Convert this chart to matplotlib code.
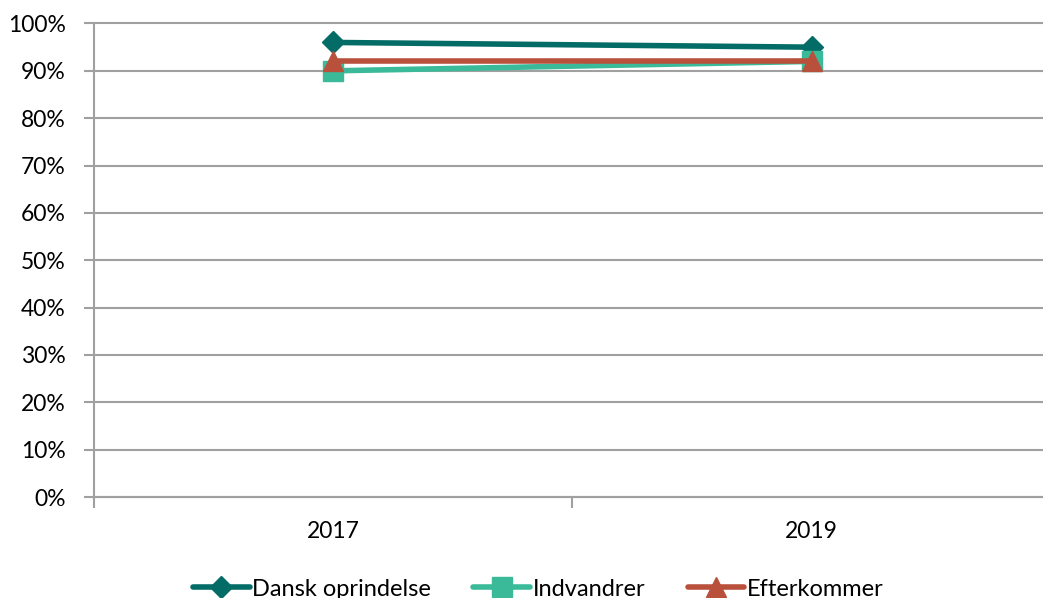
import matplotlib
matplotlib.use("Agg")
import matplotlib.pyplot as plt
from matplotlib.ticker import FixedLocator, PercentFormatter

years = ["2017", "2019"]
dansk = [96, 95]
indvandrer = [90, 92]
efterkommer = [92, 92]

series_names = ["Dansk oprindelse", "Indvandrer", "Efterkommer"]
colors = ["#046c66", "#3aba98", "#b9503c"]
markers = ["D", "s", "^"]
marker_sizes = [11, 14, 14]

plt.rcParams['font.family'] = ['Lato', 'DejaVu Sans']

fig = plt.figure(figsize=(10.43, 5.98), dpi=100)
# plot area runs a little past the right edge, as in the original
ax = fig.add_axes([93.5 / 1043, 1 - 497 / 598, (1051 - 93.5) / 1043, (497 - 23.5) / 598])

x = list(range(len(years)))
for vals, name, c, m, ms in zip([dansk, indvandrer, efterkommer], series_names, colors, markers, marker_sizes):
    ax.plot(x, vals, color=c, lw=4, marker=m, markersize=ms, label=name,
            solid_capstyle='round', zorder=3)

ax.set_xlim(-0.5, len(years) - 0.5)
ax.set_ylim(0, 100)
ax.set_yticks(range(0, 101, 10))
ax.yaxis.set_major_formatter(PercentFormatter(decimals=0))
ax.set_xticks(x)
ax.set_xticklabels(years)
ax.xaxis.set_minor_locator(FixedLocator([-0.5, 0.5, 1.5]))

ax.grid(axis='y', color='#a0a0a0', lw=1.5, zorder=0)
for gl in ax.get_ygridlines():
    gl.set_clip_on(False)
for s in ['top', 'right']:
    ax.spines[s].set_visible(False)
for s in ['left', 'bottom']:
    ax.spines[s].set_color('#a0a0a0')
    ax.spines[s].set_linewidth(1.5)

ax.tick_params(axis='y', length=7, width=1.5, color='#a0a0a0', labelsize=16.5, pad=13)
ax.tick_params(axis='x', which='major', length=0, labelsize=16.5, pad=17)
ax.tick_params(axis='x', which='minor', length=8, width=1.5, color='#a0a0a0')

leg = fig.legend(loc='center', bbox_to_anchor=(0.516, 1 - 589 / 598), ncol=3, frameon=False,
                 fontsize=17, handlelength=2.4, handletextpad=0.1, columnspacing=1.8)

fig.savefig("out.png", dpi=100)
